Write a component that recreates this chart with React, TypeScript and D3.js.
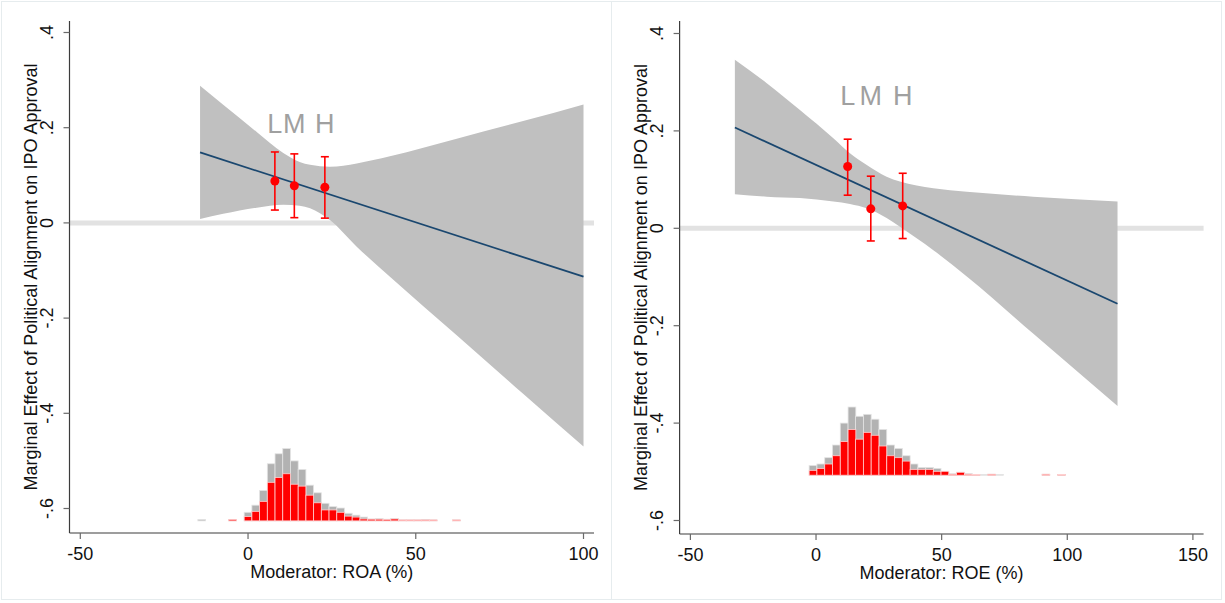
import React, { useEffect, useRef } from 'react';
import * as d3 from 'd3';

// ---- left panel: ROA ----
const roaBandX = [-14.3, -7.4, 2.6, 10.5, 15.4, 18.5, 24.4, 32.4, 42.3, 62.2, 82.0, 100];
const roaUpper = [0.288, 0.248, 0.191, 0.147, 0.128, 0.122, 0.118, 0.125, 0.140, 0.177, 0.214, 0.249];
const roaLower = [0.008, 0.019, 0.032, 0.038, 0.036, 0.031, 0.006, -0.050, -0.113, -0.236, -0.359, -0.470];
const roaLineX = [-14.3, 100];
const roaLineY = [0.148, -0.113];
const roaPointX = [8.0, 13.8, 22.9];
const roaPointY = [0.088, 0.078, 0.075];
const roaPointHi = [0.149, 0.145, 0.139];
const roaPointLo = [0.027, 0.011, 0.010];
const roaPointLabelY = 0.189;
const roaHistX = [-13.8, -4.6, 0, 2.3, 4.6, 6.9, 9.2, 11.5, 13.8, 16.1, 18.4, 20.7, 23.0, 25.3, 27.6, 29.9, 32.2, 34.5, 36.8, 39.1, 41.4, 43.7, 46.0, 48.3, 50.6, 52.9, 55.2, 62.1];
const roaHistAll = [0.003, 0.003, 0.018, 0.033, 0.064, 0.120, 0.141, 0.152, 0.126, 0.108, 0.075, 0.059, 0.037, 0.030, 0.027, 0.016, 0.012, 0.008, 0.004, 0.005, 0.0035, 0.005, 0.002, 0.002, 0.002, 0.003, 0.002, 0.002];
const roaHistSub = [0, 0.003, 0.009, 0.020, 0.041, 0.081, 0.091, 0.099, 0.077, 0.073, 0.054, 0.038, 0.023, 0.023, 0.018, 0.010, 0.008, 0.004, 0.0035, 0.0035, 0.003, 0.004, 0.002, 0.002, 0.002, 0.002, 0.002, 0.002];
const roaHistBase = -0.626;
const roaBinWidth = 2.3;

// ---- right panel: ROE ----
const roeBandX = [-32.3, -19.6, -6.4, 6.9, 13.5, 20.2, 28.1, 33.4, 46.7, 60.0, 86.4, 120];
const roeUpper = [0.346, 0.298, 0.243, 0.185, 0.154, 0.130, 0.106, 0.096, 0.082, 0.075, 0.065, 0.055];
const roeLower = [0.070, 0.065, 0.062, 0.055, 0.050, 0.041, 0.021, 0.003, -0.045, -0.099, -0.216, -0.365];
const roeLineX = [-32.3, 120];
const roeLineY = [0.207, -0.155];
const roePointX = [12.6, 21.8, 34.5];
const roePointY = [0.127, 0.040, 0.046];
const roePointHi = [0.183, 0.107, 0.113];
const roePointLo = [0.068, -0.026, -0.021];
const roePointLabelY = 0.253;
const roeHistX = [-1.2, 1.9, 5.0, 8.1, 11.2, 14.3, 17.3, 20.4, 23.5, 26.6, 29.7, 32.8, 35.9, 39.0, 42.1, 45.2, 48.2, 51.3, 54.4, 57.5, 60.6, 63.7, 66.8, 69.9, 73.0, 91.5, 97.7];
const roeHistAll = [0.020, 0.023, 0.036, 0.062, 0.107, 0.140, 0.121, 0.125, 0.115, 0.094, 0.062, 0.055, 0.040, 0.023, 0.016, 0.016, 0.014, 0.008, 0.003, 0.006, 0.0035, 0.0015, 0.0015, 0.002, 0.0015, 0.002, 0.0015];
const roeHistSub = [0.010, 0.014, 0.023, 0.040, 0.069, 0.094, 0.074, 0.088, 0.082, 0.060, 0.040, 0.036, 0.029, 0.012, 0.012, 0.012, 0.008, 0.008, 0.002, 0.006, 0.002, 0.0015, 0, 0.002, 0, 0.002, 0.0015];
const roeHistBase = -0.507;
const roeBinWidth = 3.09;

const yTicks = [0.4, 0.2, 0, -0.2, -0.4, -0.6];
const yTickLabels = ['.4', '.2', '0', '-.2', '-.4', '-.6'];
const roaXTicks = [-50, 0, 50, 100];
const roeXTicks = [-50, 0, 50, 100, 150];
const pointLabels = ['L', 'M', 'H'];
const yTitle = 'Marginal Effect of Political Alignment on IPO Approval';

const FONT = '"Liberation Sans", Arial, Helvetica, sans-serif';

function drawPanel(svg, p) {
  const g = svg.append('g');

  g.append('rect')
    .attr('x', p.frame[0]).attr('y', 1.5)
    .attr('width', p.frame[1] - p.frame[0]).attr('height', 598)
    .attr('fill', 'white').attr('stroke', '#e6ecee').attr('stroke-width', 1);

  const x = d3.scaleLinear().domain(p.xDomain).range(p.xRange);
  const y = d3.scaleLinear().domain([-0.6, 0.4]).range(p.yRange);

  // zero reference line
  g.append('line')
    .attr('x1', p.left).attr('x2', p.right)
    .attr('y1', y(0)).attr('y2', y(0))
    .attr('stroke', '#e2e2e2').attr('stroke-width', 5);

  // confidence band
  const band = d3.area()
    .x(i => x(p.bandX[i]))
    .y0(i => y(p.lower[i]))
    .y1(i => y(p.upper[i]))
    .curve(d3.curveMonotoneX);
  g.append('path')
    .attr('d', band(d3.range(p.bandX.length)))
    .attr('fill', '#c0c0c0');

  // marginal effect line
  const line = d3.line().x(i => x(p.lineX[i])).y(i => y(p.lineY[i]));
  g.append('path')
    .attr('d', line(d3.range(p.lineX.length)))
    .attr('fill', 'none').attr('stroke', '#1a476f').attr('stroke-width', 1.8);

  // histogram: all firms (gray) with subset (red) on top
  const half = p.binWidth / 2;
  const bar = (sel, vals, fill, stroke) => sel.selectAll(null)
    .data(p.histX.map((c, i) => ({ c, v: vals[i] })).filter(d => d.v > 0))
    .enter().append('rect')
    .attr('x', d => x(d.c - half))
    .attr('width', d => x(d.c + half) - x(d.c - half))
    .attr('y', d => y(p.histBase + d.v))
    .attr('height', d => y(p.histBase) - y(p.histBase + d.v))
    .attr('fill', fill).attr('stroke', stroke).attr('stroke-width', 0.8);
  bar(g.append('g'), p.histAll, '#b2b2b2', '#e4e4e4');
  bar(g.append('g'), p.histSub, '#ff0000', '#ffd0d0');

  // point estimates with CIs
  const pts = g.append('g');
  p.pointX.forEach((px, i) => {
    const cx = x(px);
    pts.append('line').attr('x1', cx).attr('x2', cx)
      .attr('y1', y(p.pointHi[i])).attr('y2', y(p.pointLo[i]))
      .attr('stroke', '#ff0000').attr('stroke-width', 1.6);
    [p.pointHi[i], p.pointLo[i]].forEach(v => {
      pts.append('line').attr('x1', cx - 4).attr('x2', cx + 4)
        .attr('y1', y(v)).attr('y2', y(v))
        .attr('stroke', '#ff0000').attr('stroke-width', 1.6);
    });
    pts.append('circle').attr('cx', cx).attr('cy', y(p.pointY[i])).attr('r', 4.5)
      .attr('fill', '#ff0000');
    pts.append('text').attr('x', cx).attr('y', y(p.labelY))
      .attr('text-anchor', 'middle').attr('font-family', FONT)
      .attr('font-size', 27).attr('fill', '#a0a0a0')
      .text(pointLabels[i]);
  });

  // axes
  const axisColor = '#3c3c3c';
  g.append('line').attr('x1', p.left).attr('x2', p.left)
    .attr('y1', p.top).attr('y2', p.bottom)
    .attr('stroke', axisColor).attr('stroke-width', 1.2);
  g.append('line').attr('x1', p.left).attr('x2', p.right)
    .attr('y1', p.bottom).attr('y2', p.bottom)
    .attr('stroke', axisColor).attr('stroke-width', 1.2);

  yTicks.forEach((t, i) => {
    g.append('line').attr('x1', p.left - 6).attr('x2', p.left)
      .attr('y1', y(t)).attr('y2', y(t))
      .attr('stroke', '#6a6a6a').attr('stroke-width', 1.2);
    g.append('text')
      .attr('transform', `translate(${p.left - 17},${y(t)}) rotate(-90)`)
      .attr('text-anchor', 'middle').attr('font-family', FONT)
      .attr('font-size', 18).attr('fill', '#111')
      .text(yTickLabels[i]);
  });

  p.xTicks.forEach(t => {
    g.append('line').attr('x1', x(t)).attr('x2', x(t))
      .attr('y1', p.bottom).attr('y2', p.bottom + 6)
      .attr('stroke', '#6a6a6a').attr('stroke-width', 1.2);
    g.append('text')
      .attr('x', x(t)).attr('y', p.bottom + 27)
      .attr('text-anchor', 'middle').attr('font-family', FONT)
      .attr('font-size', 18).attr('fill', '#111')
      .text(t);
  });

  g.append('text')
    .attr('x', (p.left + p.right) / 2).attr('y', p.bottom + 45)
    .attr('text-anchor', 'middle').attr('font-family', FONT)
    .attr('font-size', 18).attr('fill', '#111')
    .text(p.xTitle);

  g.append('text')
    .attr('transform', `translate(${p.left - 33},${(p.top + p.bottom) / 2}) rotate(-90)`)
    .attr('text-anchor', 'middle').attr('font-family', FONT)
    .attr('font-size', 18).attr('fill', '#111')
    .text(yTitle);
}

export default function App() {
  const ref = useRef(null);

  useEffect(() => {
    const svg = d3.select(ref.current);
    svg.selectAll('*').remove();
    svg.append('rect').attr('width', 1225).attr('height', 603).attr('fill', 'white');

    drawPanel(svg, {
      frame: [1.5, 611.5],
      left: 69.5, right: 594, top: 21, bottom: 533,
      xDomain: [-50, 100], xRange: [80.3, 583.5],
      yRange: [508.5, 32.5],
      xTicks: roaXTicks, xTitle: 'Moderator: ROA (%)',
      bandX: roaBandX, upper: roaUpper, lower: roaLower,
      lineX: roaLineX, lineY: roaLineY,
      pointX: roaPointX, pointY: roaPointY, pointHi: roaPointHi, pointLo: roaPointLo,
      labelY: roaPointLabelY,
      histX: roaHistX, histAll: roaHistAll, histSub: roaHistSub,
      histBase: roaHistBase, binWidth: roaBinWidth,
    });

    drawPanel(svg, {
      frame: [611.5, 1221.5],
      left: 679.6, right: 1203.6, top: 21, bottom: 534,
      xDomain: [-50, 150], xRange: [690.4, 1192.9],
      yRange: [520.5, 33.5],
      xTicks: roeXTicks, xTitle: 'Moderator: ROE (%)',
      bandX: roeBandX, upper: roeUpper, lower: roeLower,
      lineX: roeLineX, lineY: roeLineY,
      pointX: roePointX, pointY: roePointY, pointHi: roePointHi, pointLo: roePointLo,
      labelY: roePointLabelY,
      histX: roeHistX, histAll: roeHistAll, histSub: roeHistSub,
      histBase: roeHistBase, binWidth: roeBinWidth,
    });
  }, []);

  return (
    <div style={{ position: 'absolute', left: 0, top: 0 }}>
      <svg ref={ref} width={1225} height={603} style={{ display: 'block' }} />
    </div>
  );
}
